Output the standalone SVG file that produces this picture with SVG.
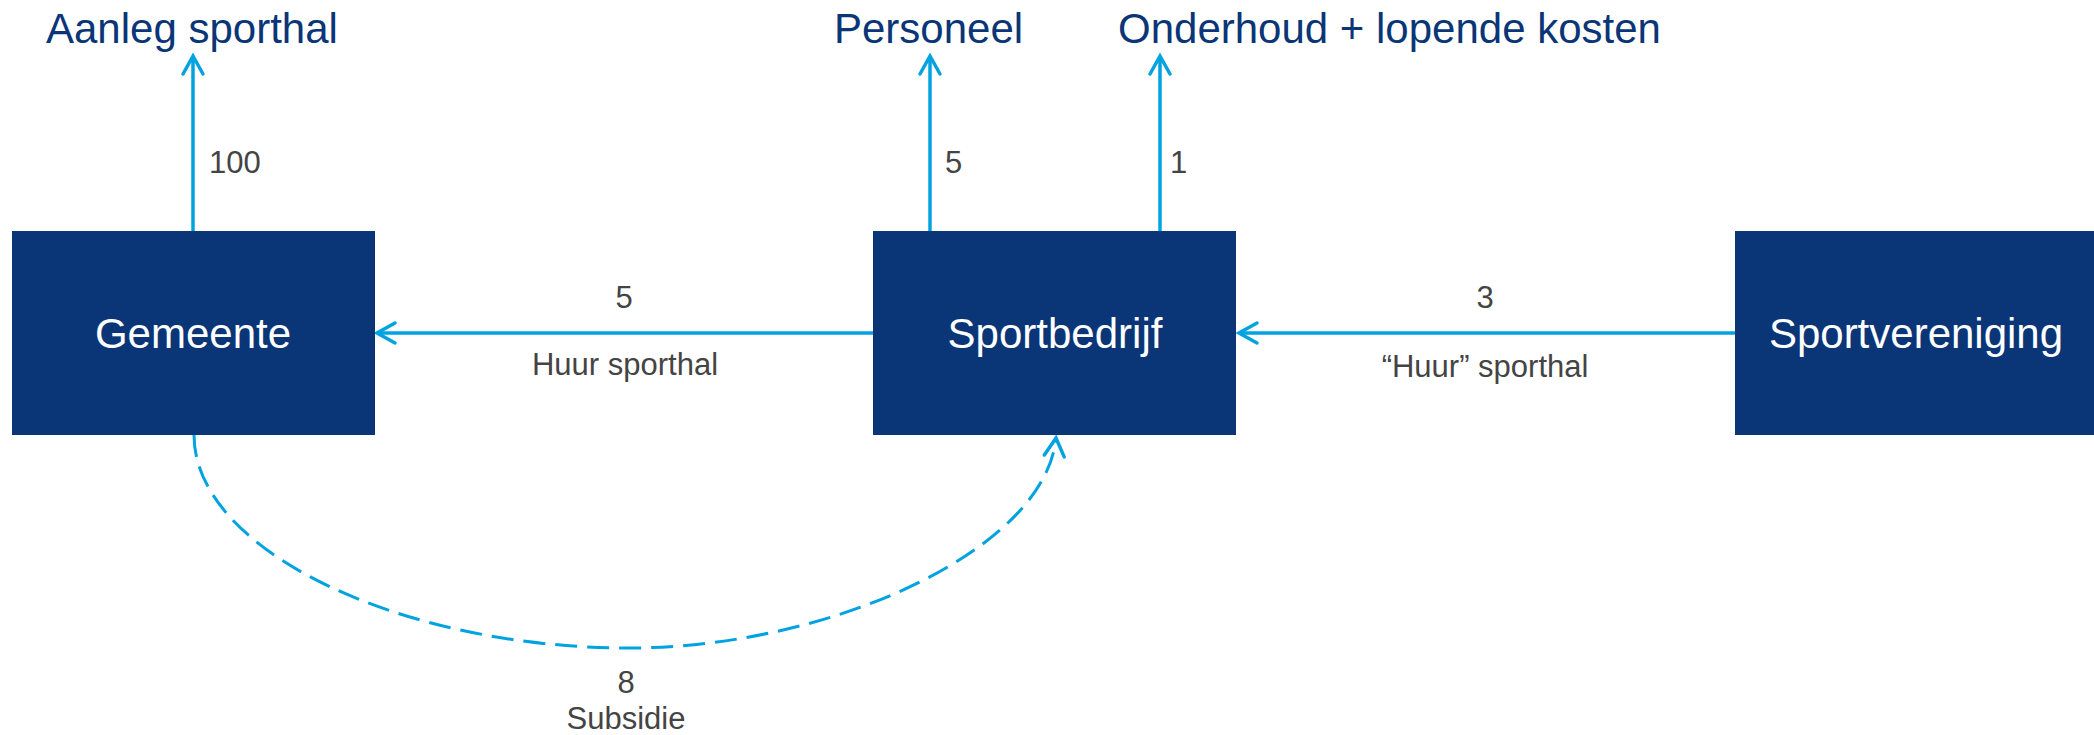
<svg xmlns="http://www.w3.org/2000/svg" width="2094" height="735" viewBox="0 0 2094 735">
<style>
.box{fill:#0a3577}
.ntext{font-family:"Liberation Sans",Arial,sans-serif;font-size:42px;fill:#ffffff;text-anchor:middle}
.title{font-family:"Liberation Sans",Arial,sans-serif;font-size:42px;fill:#0a3577}
.lbl{font-family:"Liberation Sans",Arial,sans-serif;font-size:31px;fill:#444444}
.mid{text-anchor:middle}
.conn{stroke:#00a3e0;stroke-width:3.5;fill:none}
.dash{stroke-dasharray:22 10;stroke-width:3}
</style>
<defs>
<marker id="arr" markerUnits="userSpaceOnUse" viewBox="-22 -14 26 28" refX="0" refY="0" markerWidth="26" markerHeight="28" orient="auto" overflow="visible">
<path d="M -18 -10 L 0 0 L -18 10" fill="none" stroke="#00a3e0" stroke-width="3.5" stroke-dasharray="none" stroke-linecap="round" stroke-linejoin="miter"/>
</marker>
</defs>
<g id="connectors">
<path class="conn" d="M 193 231 L 193 56" marker-end="url(#arr)"/>
<path class="conn" d="M 930 231 L 930 56" marker-end="url(#arr)"/>
<path class="conn" d="M 1160 231 L 1160 56" marker-end="url(#arr)"/>
<path class="conn" d="M 873 333 L 377 333" marker-end="url(#arr)"/>
<path class="conn" d="M 1735 333 L 1239 333" marker-end="url(#arr)"/>
<path class="conn dash" d="M 194 435 C 194 550 400 648 629 648 C 830 648 1045 550 1056 438" marker-end="url(#arr)"/>
<text class="lbl" x="209" y="173">100</text>
<text class="lbl" x="945" y="173">5</text>
<text class="lbl" x="1170" y="173">1</text>
<text class="lbl mid" x="624" y="308">5</text>
<text class="lbl mid" x="625" y="375">Huur sporthal</text>
<text class="lbl mid" x="1485" y="308">3</text>
<text class="lbl mid" x="1485" y="377">“Huur” sporthal</text>
<text class="lbl mid" x="626" y="693">8</text>
<text class="lbl mid" x="626" y="729">Subsidie</text>
</g>
<g id="aanleg"><text class="title" x="46" y="43">Aanleg sporthal</text></g>
<g id="personeel"><text class="title" x="834" y="43">Personeel</text></g>
<g id="onderhoud"><text class="title" x="1118" y="43">Onderhoud + lopende kosten</text></g>
<g id="gemeente">
<rect class="box" x="12" y="231" width="363" height="204"/>
<text class="ntext" x="193" y="348">Gemeente</text>
</g>
<g id="sportbedrijf">
<rect class="box" x="873" y="231" width="363" height="204"/>
<text class="ntext" x="1055" y="348">Sportbedrijf</text>
</g>
<g id="sportvereniging">
<rect class="box" x="1735" y="231" width="363" height="204"/>
<text class="ntext" x="1916" y="348">Sportvereniging</text>
</g>
</svg>
